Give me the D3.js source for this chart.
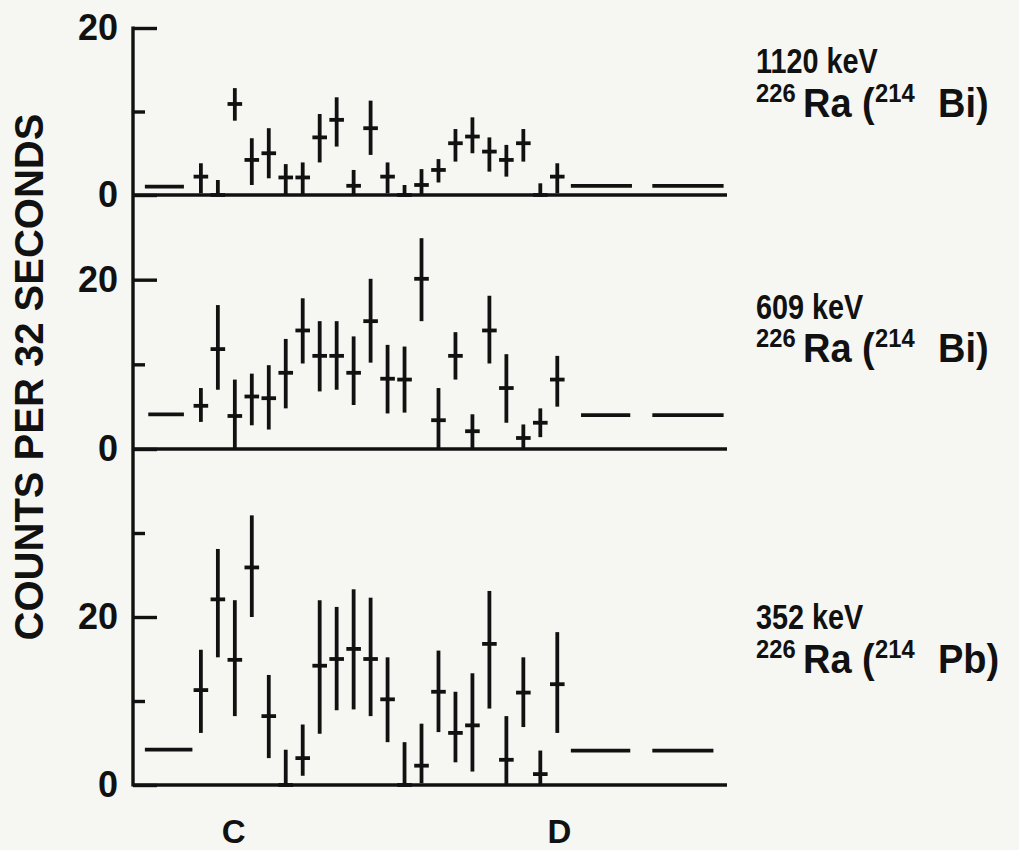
<!DOCTYPE html>
<html><head><meta charset="utf-8">
<script src="https://cdn.jsdelivr.net/npm/d3@7"></script>
<style>
body{margin:0;background:#f6f6f3}
svg{display:block}
text{font-family:"Liberation Sans",Arial,Helvetica,sans-serif;fill:#111}
</style>
</head><body>
<svg id="chart" width="1019" height="850"></svg>
<script>
// ---- data (time-bin index 0..21) ----
const binIndex = d3.range(22);

// 1120 keV panel
const val1120 = [2.2, 0, 10.9, 4.2, 5.0, 2.1, 2.1, 6.9, 9.0, 1.1, 8.0, 2.2, 0, 1.2, 3.0, 6.2, 7.0, 5.2, 4.2, 6.2, 0, 2.2];
const lo1120  = [0.2, 0, 8.9, 1.2, 2.0, 0, 0, 3.9, 5.8, 0, 4.8, 0.2, 0, 0, 1.5, 4.0, 5.0, 2.8, 2.2, 4.0, 0, 0.2];
const hi1120  = [3.8, 1.8, 12.8, 6.8, 8.0, 3.7, 3.9, 9.7, 11.7, 3.0, 11.3, 3.9, 1.2, 3.1, 4.3, 7.9, 9.3, 6.9, 6.0, 7.9, 1.4, 3.8];

// 609 keV panel
const val609 = [5.1, 11.8, 3.9, 6.2, 6.0, 9.0, 14.0, 11.0, 11.0, 9.0, 15.1, 8.3, 8.2, 20.1, 3.4, 11.0, 2.1, 14.0, 7.2, 1.3, 3.1, 8.2];
const lo609  = [3.2, 7.0, 0, 2.8, 2.3, 4.8, 10.1, 6.8, 7.0, 5.2, 10.2, 4.2, 4.3, 15.1, 0, 8.2, 0, 10.1, 3.1, 0, 1.4, 5.0];
const hi609  = [7.2, 17.0, 8.2, 8.9, 9.9, 13.0, 17.8, 15.1, 15.1, 13.3, 20.1, 12.3, 12.1, 24.9, 7.2, 13.8, 4.1, 18.1, 11.2, 2.9, 4.8, 11.0];

// 352 keV panel
const val352 = [11.3, 22.1, 14.9, 25.9, 8.2, 0, 3.2, 14.2, 15.0, 16.2, 15.0, 10.2, 0, 2.3, 11.1, 6.2, 7.1, 16.8, 3.0, 11.0, 1.3, 12.0];
const lo352  = [6.2, 15.2, 8.2, 20.0, 3.2, 0, 1.1, 6.1, 8.9, 9.0, 8.2, 5.1, 0, 0.2, 6.3, 2.7, 1.6, 9.1, 0, 6.9, 0, 6.2];
const hi352  = [16.1, 28.1, 22.0, 32.1, 13.1, 4.2, 7.2, 22.0, 21.2, 23.3, 22.3, 15.2, 5.1, 7.3, 16.0, 11.1, 13.3, 23.1, 8.2, 15.2, 4.1, 18.2];

// background levels (bin-index start, end, value)
const bg1120 = [[-3.3, -1.0, 1.0], [21.8, 25.4, 1.1], [26.6, 30.8, 1.1]];
const bg609  = [[-3.1, -1.0, 4.1], [22.4, 25.3, 4.0], [26.6, 30.8, 4.0]];
const bg352  = [[-3.3, -0.5, 4.2], [21.8, 25.3, 4.1], [26.6, 30.2, 4.1]];

// axes
const yMajor = [0, 20];
const yMinor1120 = [10], yMinor609 = [10], yMinor352 = [10, 30];
const xTickPos = [1.9, 21.1];
const xTickLabels = ["C", "D"];
const yTitle = "COUNTS PER 32 SECONDS";

// labels
const energyLabels = ["1120 keV", "609 keV", "352 keV"];
const parentIso = "226", parentEl = "Ra";
const daughterIso = ["214", "214", "214"];
const daughterEl = ["Bi", "Bi", "Pb"];

// ---- drawing ----
const svg = d3.select("#chart");
svg.append("rect").attr("width",1019).attr("height",850).attr("fill","#f6f6f3");

const x = d3.scaleLinear().domain([-4, 31]).range([133, 727]);
const ink = "#111";
const sw = 3.8;

const panels = [
  {vals: val1120, lo: lo1120, hi: hi1120, bg: bg1120, minor: yMinor1120, y: d3.scaleLinear().domain([0,20]).range([195,28]),  lab: [73, 117]},
  {vals: val609,  lo: lo609,  hi: hi609,  bg: bg609,  minor: yMinor609,  y: d3.scaleLinear().domain([0,30]).range([449,195]), lab: [319, 362]},
  {vals: val352,  lo: lo352,  hi: hi352,  bg: bg352,  minor: yMinor352,  y: d3.scaleLinear().domain([0,40]).range([785,449]), lab: [629, 673]}
];

// vertical axis line
svg.append("line").attr("x1",x(-4)).attr("x2",x(-4)).attr("y1",panels[0].y(20)-1.6).attr("y2",panels[2].y(0)+1.6)
  .attr("stroke",ink).attr("stroke-width",3.4);

panels.forEach((p, k) => {
  const g = svg.append("g");
  // major ticks + labels
  const ax = g.append("g").attr("transform",`translate(${x(-4)},0)`)
    .call(d3.axisLeft(p.y).tickValues(yMajor).tickSize(-24).tickPadding(15).tickFormat(d3.format("d")));
  ax.select(".domain").remove();
  ax.selectAll(".tick line").attr("stroke",ink).attr("stroke-width",3.4);
  ax.selectAll(".tick text").style("font-size","36px").style("font-weight","bold").attr("fill",ink);
  // minor ticks
  const axm = g.append("g").attr("transform",`translate(${x(-4)},0)`)
    .call(d3.axisLeft(p.y).tickValues(p.minor).tickSize(-12).tickFormat(""));
  axm.select(".domain").remove();
  axm.selectAll(".tick line").attr("stroke",ink).attr("stroke-width",3.4);

  // baseline
  g.append("line").attr("x1",x(-4)).attr("x2",x(31)).attr("y1",p.y(0)).attr("y2",p.y(0))
    .attr("stroke",ink).attr("stroke-width",3.4);

  // background bars
  g.selectAll(".bg").data(p.bg).join("line")
    .attr("x1",d=>x(d[0])).attr("x2",d=>x(d[1])).attr("y1",d=>p.y(d[2])).attr("y2",d=>p.y(d[2]))
    .attr("stroke",ink).attr("stroke-width",sw);

  // error bars
  g.selectAll(".eb").data(binIndex).join("line")
    .attr("x1",i=>x(i)).attr("x2",i=>x(i)).attr("y1",i=>p.y(p.lo[i])).attr("y2",i=>p.y(p.hi[i]))
    .attr("stroke",ink).attr("stroke-width",sw);
  // crossbars
  g.selectAll(".cb").data(binIndex).join("line")
    .attr("x1",i=>x(i-0.43)).attr("x2",i=>x(i+0.43)).attr("y1",i=>p.y(p.vals[i])).attr("y2",i=>p.y(p.vals[i]))
    .attr("stroke",ink).attr("stroke-width",sw);

  // right labels (condensed type)
  const lx = 756;
  g.append("text").attr("transform",`translate(${lx},${p.lab[0]}) scale(0.8,1)`)
    .style("font-size","36px").style("font-weight","bold").text(energyLabels[k]);
  const s2 = 0.95;
  const loc = X => (X - lx) / s2;
  const t = g.append("text").attr("transform",`translate(${lx},${p.lab[1]}) scale(${s2},1)`)
    .style("font-size","40px").style("font-weight","bold");
  t.append("tspan").attr("x",0).attr("y",-15).style("font-size","25px").text(parentIso);
  t.append("tspan").attr("x",loc(803)).attr("y",0).text(parentEl);
  t.append("tspan").attr("x",loc(862)).attr("y",0).text("(");
  t.append("tspan").attr("x",loc(875)).attr("y",-15).style("font-size","25px").text(daughterIso[k]);
  t.append("tspan").attr("x",loc(938)).attr("y",0).text(daughterEl[k] + ")");
});

// x axis labels
const xa = svg.append("g").attr("transform",`translate(0,${panels[2].y(0)})`)
  .call(d3.axisBottom(x).tickValues(xTickPos).tickSize(0).tickPadding(35).tickFormat((d,i)=>xTickLabels[i]));
xa.select(".domain").remove();
xa.selectAll(".tick text").style("font-size","33px").style("font-weight","bold").attr("fill",ink);

// y title
svg.append("text").attr("transform","translate(29,377) rotate(-90)")
  .attr("text-anchor","middle").attr("dominant-baseline","central")
  .style("font-size","40px").style("font-weight","bold").text(yTitle);
</script>
</body></html>
